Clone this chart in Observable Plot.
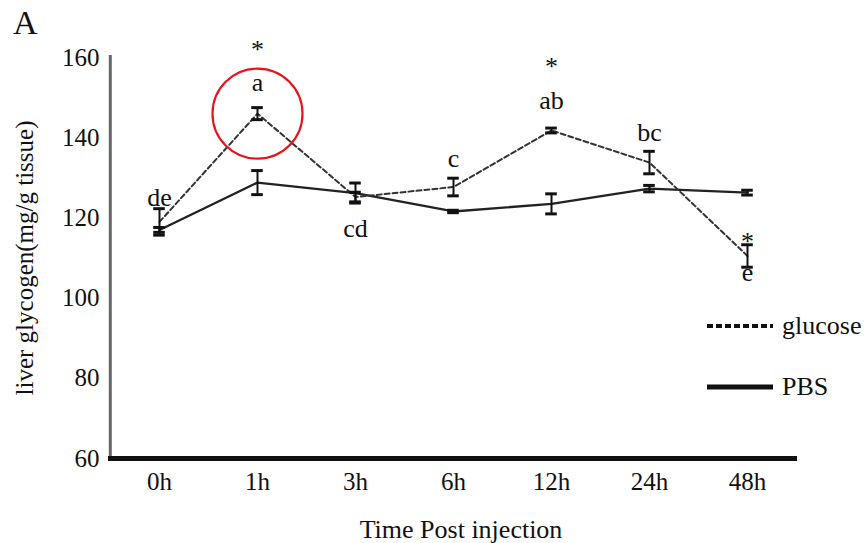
<!DOCTYPE html>
<html><head><meta charset="utf-8">
<script src="https://cdn.jsdelivr.net/npm/d3@7"></script>
<script src="https://cdn.jsdelivr.net/npm/@observablehq/plot@0.6"></script>
<style>
body{margin:0;background:#fff;font-family:"Liberation Serif",serif;}
#wrap{position:relative;width:865px;height:543px;}
.ov{position:absolute;color:#111;font-family:"Liberation Serif",serif;}
svg, svg text{font-family:"Liberation Serif",serif !important;}
</style></head><body>
<div id="wrap"></div>
<script>
const times = ["0h","1h","3h","6h","12h","24h","48h"];
const glucose = [119, 146, 125.2, 127.7, 141.8, 133.8, 110.5];
const glucoseErr = [3.3, 1.5, 1.2, 2.2, 0.6, 2.8, 2.8];
const pbs = [117, 128.8, 126.2, 121.6, 123.5, 127.3, 126.3];
const pbsErr = [0.6, 3, 2.5, 0.3, 2.5, 0.8, 0.6];
const yTicks = [60, 80, 100, 120, 140, 160];
const annTime = ["0h","1h","1h","3h","6h","12h","12h","24h","48h","48h"];
const annText = ["de","a","*","cd","c","ab","*","bc","*","e"];
const annY = [125.1, 153.8, 162.0, 117.4, 134.8, 149.3, 157.6, 141.3, 114.0, 106.4];
const seriesNames = ["glucose","PBS"];
const xTitle = "Time Post injection";
const yTitle = "liver glycogen(mg/g tissue)";
const panelLabel = "A";

const rows = [];
times.forEach((t,i)=>{
  rows.push({time:t, series:"glucose", v:glucose[i], e:glucoseErr[i]});
  rows.push({time:t, series:"PBS", v:pbs[i], e:pbsErr[i]});
});
const gRows = rows.filter(d=>d.series==="glucose");
const pRows = rows.filter(d=>d.series==="PBS");
const ann = annText.map((s,i)=>({time:annTime[i], text:s, y:annY[i]}));

const W=865,H=543,mL=108,mR=68,mT=57,mB=85;
const bw=(W-mL-mR)/times.length;
const capInset=(bw-12)/2;
const font="Liberation Serif";

const chart = Plot.plot({
  width:W, height:H, marginLeft:mL, marginRight:mR, marginTop:mT, marginBottom:mB,
  style:{fontFamily:font, fontSize:"25px", color:"#111", background:"transparent", overflow:"visible"},
  x:{type:"band", domain:times, padding:0, label:null, tickSize:0, tickPadding:14},
  y:{domain:[60,160], ticks:yTicks, label:null, tickSize:0, tickPadding:9},
  marks:[
    Plot.ruleX([times[0]], {y1:60, y2:160.5, dx:-bw/2, stroke:"#666", strokeWidth:3}),
    Plot.ruleY([60], {stroke:"#111", strokeWidth:5}),
    Plot.line(pRows, {x:"time", y:"v", stroke:"#222", strokeWidth:2.3}),
    Plot.line(gRows, {x:"time", y:"v", stroke:"#333", strokeWidth:2, strokeDasharray:"5,3"}),
    Plot.ruleX(rows, {x:"time", y1:d=>d.v-d.e, y2:d=>d.v+d.e, stroke:"#111", strokeWidth:2}),
    Plot.tickY(rows, {x:"time", y:d=>d.v-d.e, stroke:"#111", strokeWidth:3, insetLeft:capInset, insetRight:capInset}),
    Plot.tickY(rows, {x:"time", y:d=>d.v+d.e, stroke:"#111", strokeWidth:3, insetLeft:capInset, insetRight:capInset}),
    Plot.text(ann, {x:"time", y:"y", text:"text", fill:"#111", fontSize:26, fontFamily:font, lineAnchor:"middle"}),
    Plot.dot([gRows[1]], {x:"time", y:"v", r:45, stroke:"#e8141b", strokeWidth:2.2, fill:"none"}),
    Plot.text([xTitle], {frameAnchor:"bottom", dx:8, dy:71, lineAnchor:"middle", fontSize:26, fontFamily:font, fill:"#111"}),
    Plot.text([yTitle], {frameAnchor:"left", dx:-84, dy:0, rotate:-90, lineAnchor:"middle", textAnchor:"middle", fontSize:25, fontFamily:font, fill:"#111"})
  ]
});
const wrap=document.getElementById("wrap");
wrap.appendChild(chart);

const A=document.createElement("div");
A.className="ov"; A.textContent=panelLabel;
A.style.cssText+="left:13px;top:6px;font-size:34px;line-height:34px;";
wrap.appendChild(A);

const leg=[{name:seriesNames[0], y:326, dash:"6,3", w:4},{name:seriesNames[1], y:387, dash:null, w:5}];
leg.forEach(l=>{
  const d=document.createElement("div");
  d.className="ov";
  d.style.cssText+=`left:706px;top:${l.y-16}px;height:32px;display:flex;align-items:center;font-size:26px;white-space:nowrap;`;
  d.innerHTML=`<svg width="68" height="32" style="margin-right:8px"><line x1="1" x2="67" y1="16" y2="16" stroke="#111" stroke-width="${l.w}" ${l.dash?`stroke-dasharray="${l.dash}"`:""}/></svg><span>${l.name}</span>`;
  wrap.appendChild(d);
});
</script></body></html>
